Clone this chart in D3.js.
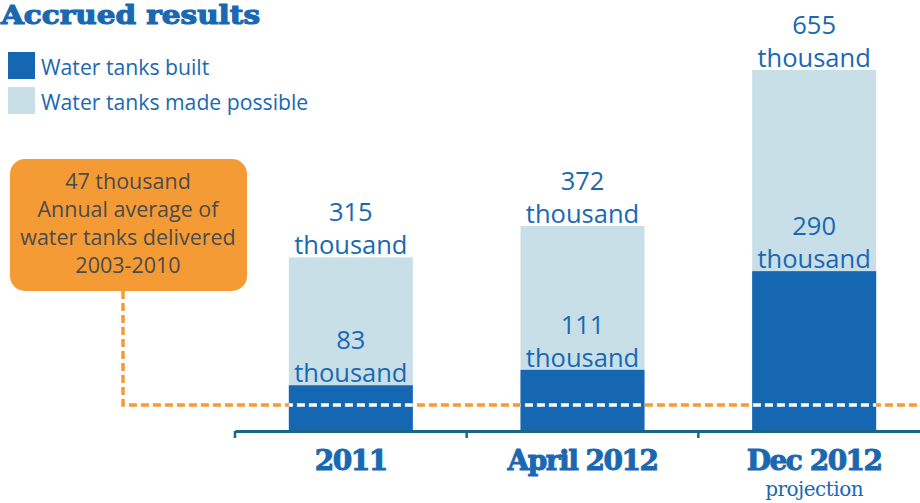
<!DOCTYPE html>
<html>
<head>
<meta charset="utf-8">
<script src="https://cdn.jsdelivr.net/npm/d3@7"></script>
<style>
  body { margin: 0; background: #fff; }
  text { font-family: "Open Sans", "Noto Sans", sans-serif; }
  text.slab { font-family: "DejaVu Serif", serif; font-weight: bold; }
  text.serif { font-family: "DejaVu Serif", serif; }
</style>
</head>
<body>
<svg id="chart" width="920" height="503"></svg>
<script>
// data
var categories = ['2011', 'April 2012', 'Dec 2012'];
var subLabels = ['', '', 'projection'];
var madePossible = [315, 372, 655];
var built = [83, 111, 290];
var annualAverage = 47;
var boxLines = ['47 thousand', 'Annual average of', 'water tanks delivered', '2003-2010'];
var legendLabels = ['Water tanks built', 'Water tanks made possible'];

var darkBlue = '#1467b0', lightBlue = '#c8dfe7', textBlue = '#1a68b2', orange = '#f59b36';

var svg = d3.select('#chart');
var baseY = 431;

var x = d3.scaleBand().domain(categories).range([235, 930]).paddingInner(0).paddingOuter(0);
var y = d3.scaleLinear().domain([0, 655]).range([baseY, 70]);
var barW = 124;

// title
svg.append('text').attr('class', 'slab')
  .attr('x', 1).attr('y', 24)
  .attr('font-size', 26.5).attr('fill', textBlue)
  .attr('stroke', textBlue).attr('stroke-width', 1.2)
  .attr('textLength', 259).attr('lengthAdjust', 'spacingAndGlyphs')
  .text('Accrued results');

// legend
var leg = svg.selectAll('.leg').data(legendLabels).enter().append('g')
  .attr('transform', function(d, i) { return 'translate(8,' + (52 + i * 35) + ')'; });
leg.append('rect').attr('width', 27).attr('height', 27)
  .attr('fill', function(d, i) { return i == 0 ? darkBlue : lightBlue; });
leg.append('text').attr('x', 33).attr('y', 23)
  .attr('font-size', 21.2).attr('fill', textBlue)
  .text(function(d) { return d; });

// orange dashed average line
var avgY = y(annualAverage);
svg.append('path')
  .attr('d', 'M123,291 L123,' + avgY + ' L920,' + avgY)
  .attr('fill', 'none').attr('stroke', orange)
  .attr('stroke-width', 3.5).attr('stroke-dasharray', '8,4');

// bars
var rows = categories.map(function(c, i) {
  return { cat: c, total: madePossible[i], built: built[i], sub: subLabels[i] };
});
var cx = function(d) { return x(d.cat) + x.bandwidth() / 2; };

svg.selectAll('.bar-light').data(rows).enter().append('rect')
  .attr('x', function(d) { return cx(d) - barW / 2; })
  .attr('y', function(d) { return y(d.total); })
  .attr('width', barW)
  .attr('height', function(d) { return baseY - y(d.total); })
  .attr('fill', lightBlue);

svg.selectAll('.bar-dark').data(rows).enter().append('rect')
  .attr('x', function(d) { return cx(d) - barW / 2; })
  .attr('y', function(d) { return y(d.built); })
  .attr('width', barW)
  .attr('height', function(d) { return baseY - y(d.built); })
  .attr('fill', darkBlue);

// white dashes where the average line crosses the bars
var clip = svg.append('clipPath').attr('id', 'barclip');
clip.selectAll('rect').data(rows).enter().append('rect')
  .attr('x', function(d) { return cx(d) - barW / 2; })
  .attr('y', function(d) { return y(d.built); })
  .attr('width', barW)
  .attr('height', function(d) { return baseY - y(d.built); });
svg.append('path')
  .attr('d', 'M123,291 L123,' + avgY + ' L920,' + avgY)
  .attr('fill', 'none').attr('stroke', '#fff')
  .attr('stroke-width', 3.5).attr('stroke-dasharray', '8,4')
  .attr('clip-path', 'url(#barclip)');

// value labels
function valueLabel(sel, key) {
  var g = sel.append('text').attr('text-anchor', 'middle')
    .attr('font-size', 25.5).attr('fill', textBlue);
  g.append('tspan').attr('x', cx).attr('y', function(d) { return y(d[key]) - 36; })
    .text(function(d) { return d[key]; });
  g.append('tspan').attr('x', cx).attr('y', function(d) { return y(d[key]) - 3; })
    .text('thousand');
}
valueLabel(svg.selectAll('.vt').data(rows).enter(), 'total');
valueLabel(svg.selectAll('.vb').data(rows).enter(), 'built');

// axis
var axis = svg.append('g').attr('transform', 'translate(0,' + baseY + ')')
  .call(d3.axisBottom(x).tickValues([]).tickSizeOuter(0));
axis.select('.domain').attr('stroke', '#1b6487').attr('stroke-width', 3);
var tickPos = categories.map(function(c) { return x(c); });
axis.selectAll('.tk').data(tickPos).enter().append('line')
  .attr('x1', function(d) { return d; }).attr('x2', function(d) { return d; })
  .attr('y1', 0).attr('y2', 7)
  .attr('stroke', '#1b6487').attr('stroke-width', 2.5);

svg.selectAll('.cat').data(rows).enter().append('text')
  .attr('class', 'slab').attr('text-anchor', 'middle')
  .attr('x', cx).attr('y', 470)
  .attr('font-size', 28).attr('fill', textBlue)
  .attr('stroke', textBlue).attr('stroke-width', 1)
  .attr('letter-spacing', -1.5)
  .text(function(d) { return d.cat; });

svg.selectAll('.sub').data(rows).enter().append('text')
  .attr('class', 'serif').attr('text-anchor', 'middle')
  .attr('x', cx).attr('y', 496)
  .attr('font-size', 20).attr('fill', textBlue)
  .attr('letter-spacing', -0.5)
  .text(function(d) { return d.sub; });

// annotation box
svg.append('rect').attr('x', 10).attr('y', 159).attr('width', 237).attr('height', 132)
  .attr('rx', 15).attr('fill', orange);
svg.selectAll('.box').data(boxLines).enter().append('text')
  .attr('text-anchor', 'middle').attr('x', 128)
  .attr('y', function(d, i) { return 189 + i * 28; })
  .attr('font-size', 21.5).attr('fill', '#4b4b4b')
  .text(function(d) { return d; });
</script>
</body>
</html>
